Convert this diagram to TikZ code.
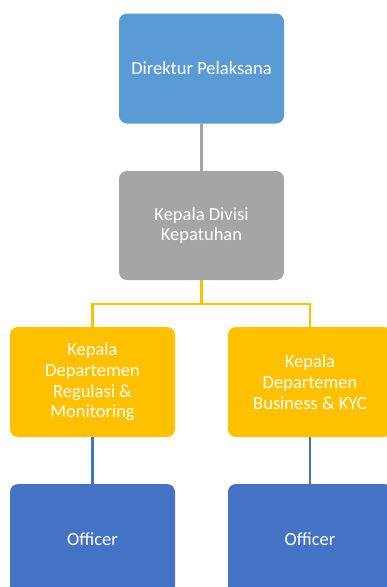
\documentclass[tikz,border=0pt]{standalone}
\usepackage{fontspec}
\setmainfont{Carlito}
\definecolor{cBlueL}{HTML}{5B9BD5}
\definecolor{cGray}{HTML}{A5A5A5}
\definecolor{cYel}{HTML}{FFC000}
\definecolor{cBlueD}{HTML}{4472C4}
\begin{document}
\begin{tikzpicture}[x=1pt,y=-1pt,
  box/.style={rectangle, rounded corners=8pt, draw=none, text=white, align=center,
    minimum height=110pt, inner sep=0pt,
    font=\fontsize{18.5}{20.7}\selectfont},
  conn/.style={line width=2.2pt}]
\useasboundingbox (0,0) rectangle (387,587);
\clip (0,0) rectangle (387,587);
\node[box, fill=cBlueL, minimum width=165pt] (dir) at (201.5,68.5) {Direktur Pelaksana};
\node[box, fill=cGray, minimum width=165pt, minimum height=109pt] (div) at (201.5,225.5) {Kepala Divisi\\Kepatuhan};
\node[box, fill=cYel, minimum width=165pt] (l1) at (92.5,382) {Kepala\\Departemen\\Regulasi \&\\Monitoring};
\node[box, fill=cYel, minimum width=164pt] (r1) at (310,382) {Kepala\\Departemen\\Business \& KYC};
\node[box, fill=cBlueD, minimum width=165pt] (l2) at (92.5,539) {Officer};
\node[box, fill=cBlueD, minimum width=164pt] (r2) at (310,539) {Officer};
\draw[conn, cGray] (dir.south) -- (div.north);
\draw[conn, cYel] (div.south) -- ++(0,24) coordinate (j);
\draw[conn, cYel] (j) -| (l1.north);
\draw[conn, cYel] (j) -| (r1.north);
\draw[conn, cBlueD] (l1.south) -- (l2.north);
\draw[conn, cBlueD] (r1.south) -- (r2.north);
\end{tikzpicture}
\end{document}
